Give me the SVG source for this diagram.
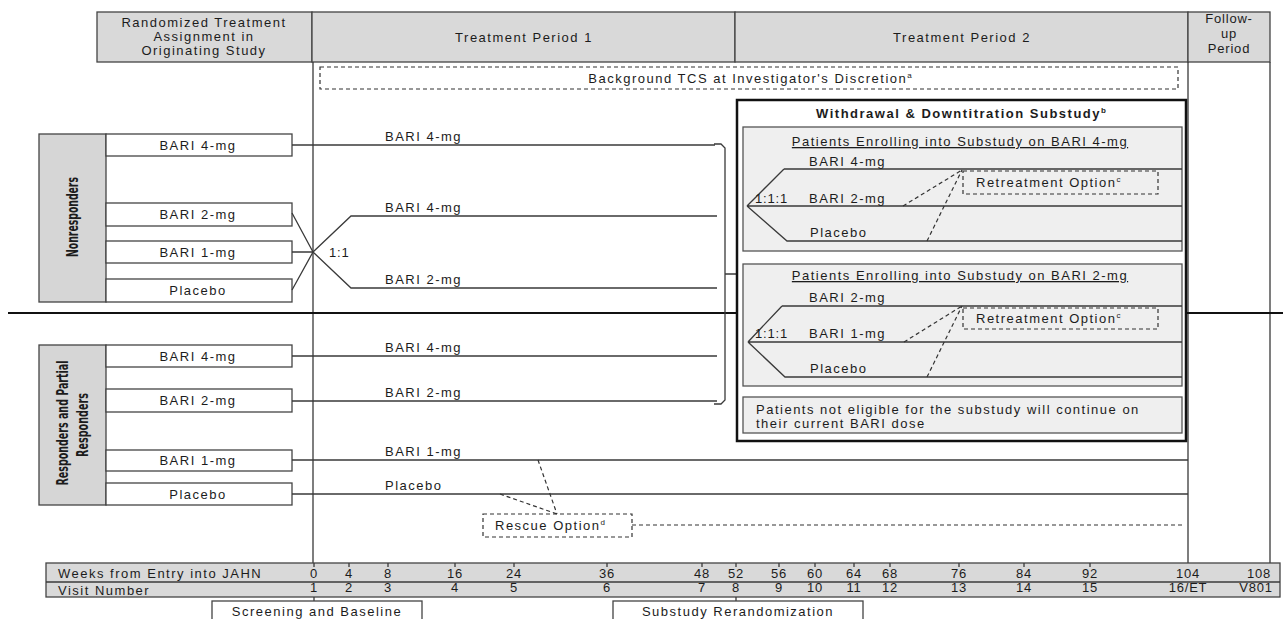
<svg xmlns="http://www.w3.org/2000/svg" width="1283" height="619" viewBox="0 0 1283 619">
<style>
.t{font-family:"Liberation Sans",Arial,sans-serif;font-size:13px;letter-spacing:1.5px;fill:#1c1c1c}
.c{text-anchor:middle}
.b{font-weight:bold}
.u{text-decoration:underline}
.n{letter-spacing:0.8px}
.v{font-family:"Liberation Sans Narrow","DejaVu Sans Condensed","Liberation Sans",sans-serif;font-weight:bold;font-size:16px;letter-spacing:0;fill:#1c1c1c;text-anchor:middle}
.sup{font-size:8px;letter-spacing:0}
.hdr{fill:#d9d9d9;stroke:#444;stroke-width:1.3}
.side{fill:#d6d6d6;stroke:#444;stroke-width:1.3}
.box{fill:#fff;stroke:#444;stroke-width:1.3}
.sub{fill:#efefef;stroke:#555;stroke-width:1.3}
.dbox{fill:none;stroke:#333;stroke-width:1.2;stroke-dasharray:4 3}
.ln{fill:none;stroke:#3a3a3a;stroke-width:1.3}
.dl{fill:none;stroke:#333;stroke-width:1.2;stroke-dasharray:4 3}
</style>
<rect width="1283" height="619" fill="#fff"/>

<g id="header">
  <rect class="hdr" x="97" y="12" width="215" height="50"/>
  <text class="t c" x="204" y="27">Randomized Treatment</text>
  <text class="t c" x="204" y="41">Assignment in</text>
  <text class="t c" x="204" y="55">Originating Study</text>
  <rect class="hdr" x="312" y="12" width="423" height="50"/>
  <text class="t c" x="524" y="42">Treatment Period 1</text>
  <rect class="hdr" x="735" y="12" width="453" height="50"/>
  <text class="t c" x="962" y="42">Treatment Period 2</text>
  <rect class="hdr" x="1188" y="12" width="82" height="50"/>
  <text class="t c n" x="1229" y="23">Follow-</text>
  <text class="t c n" x="1229" y="38">up</text>
  <text class="t c n" x="1229" y="53">Period</text>
</g>

<g id="columns">
  <path class="ln" d="M313,62 V563 M1188,62 V563 M1270,62 V563"/>
</g>

<g id="background-tcs">
  <rect class="dbox" x="320" y="67" width="858" height="22"/>
  <text class="t c" x="750" y="83">Background TCS at Investigator's Discretion<tspan class="sup" dy="-5">a</tspan></text>
</g>

<g id="separator">
  <path d="M8,313 H1283" stroke="#111" stroke-width="2"/>
</g>

<g id="nonresponders">
  <rect class="side" x="39" y="134" width="67" height="168"/>
  <text class="v" transform="translate(78,217) rotate(-90)" textLength="80" lengthAdjust="spacingAndGlyphs">Nonresponders</text>
  <rect class="box" x="106" y="134" width="186" height="22"/>
  <text class="t c" x="198" y="150">BARI 4-mg</text>
  <rect class="box" x="106" y="203" width="186" height="23"/>
  <text class="t c" x="198" y="219">BARI 2-mg</text>
  <rect class="box" x="106" y="241" width="186" height="22"/>
  <text class="t c" x="198" y="257">BARI 1-mg</text>
  <rect class="box" x="106" y="279" width="186" height="23"/>
  <text class="t c" x="198" y="295">Placebo</text>
</g>

<g id="responders">
  <rect class="side" x="39" y="345" width="67" height="160"/>
  <text class="v" transform="translate(68,423) rotate(-90)" textLength="125" lengthAdjust="spacingAndGlyphs">Responders and Partial</text>
  <text class="v" transform="translate(88,425) rotate(-90)" textLength="64" lengthAdjust="spacingAndGlyphs">Responders</text>
  <rect class="box" x="106" y="345" width="186" height="22"/>
  <text class="t c" x="198" y="361">BARI 4-mg</text>
  <rect class="box" x="106" y="389" width="186" height="23"/>
  <text class="t c" x="198" y="405">BARI 2-mg</text>
  <rect class="box" x="106" y="450" width="186" height="21"/>
  <text class="t c" x="198" y="465">BARI 1-mg</text>
  <rect class="box" x="106" y="483" width="186" height="22"/>
  <text class="t c" x="198" y="499">Placebo</text>
</g>

<g id="connectors">
  <path class="ln" d="M292,145 H715"/>
  <path class="ln" d="M292,213 L313,252 M292,252 H313 M292,290 L313,252"/>
  <path class="ln" d="M313,252 L351,216 H717 M313,252 L351,288 H717"/>
  <path class="ln" d="M292,356 H717 M292,401 H717"/>
  <path class="ln" d="M292,460 H1188 M292,494 H1188"/>
  <path class="ln" d="M714,144 H721 L725,148 V400 L721,404 H714 M725,274 H737"/>
  <path class="dl" d="M538,460 L557,514 M500,494 L557,514 M632,525 H1184"/>
  <text class="t" x="385" y="141">BARI 4-mg</text>
  <text class="t" x="385" y="212">BARI 4-mg</text>
  <text class="t n" x="329" y="257">1:1</text>
  <text class="t" x="385" y="284">BARI 2-mg</text>
  <text class="t" x="385" y="352">BARI 4-mg</text>
  <text class="t" x="385" y="397">BARI 2-mg</text>
  <text class="t" x="385" y="456">BARI 1-mg</text>
  <text class="t" x="385" y="490">Placebo</text>
</g>

<g id="rescue">
  <rect class="dbox" x="483" y="514" width="149" height="23"/>
  <text class="t" x="495" y="530">Rescue Option<tspan class="sup" dy="-5">d</tspan></text>
</g>

<g id="substudy">
  <rect x="737" y="100" width="449" height="341" fill="#fff" stroke="#111" stroke-width="2.5"/>
  <text class="t c b" x="961" y="118">Withdrawal &amp; Downtitration Substudy<tspan class="sup" dy="-5">b</tspan></text>

  <g id="substudy-4mg">
    <rect class="sub" x="743" y="127" width="439" height="124"/>
    <text class="t c u" x="960" y="146">Patients Enrolling into Substudy on BARI 4-mg</text>
    <path class="ln" d="M784,169 H1182 M747,206 L784,169 M747,206 H1182 M747,206 L787,241 H1182"/>
    <text class="t" x="809" y="166">BARI 4-mg</text>
    <text class="t n" x="755" y="203">1:1:1</text>
    <text class="t" x="809" y="203">BARI 2-mg</text>
    <text class="t" x="810" y="237">Placebo</text>
    <rect class="dbox" x="963" y="171" width="195" height="23" fill="#efefef"/>
    <text class="t" x="976" y="187">Retreatment Option<tspan class="sup" dy="-5">c</tspan></text>
    <path class="dl" d="M903,206 L962,170 M927,241 L962,170"/>
  </g>

  <g id="substudy-2mg">
    <rect class="sub" x="743" y="264" width="439" height="122"/>
    <text class="t c u" x="960" y="280">Patients Enrolling into Substudy on BARI 2-mg</text>
    <path class="ln" d="M782,306 H1182 M748,342 L782,306 M748,342 H1182 M748,342 L785,377 H1182"/>
    <text class="t" x="809" y="302">BARI 2-mg</text>
    <text class="t n" x="755" y="338">1:1:1</text>
    <text class="t" x="809" y="338">BARI 1-mg</text>
    <text class="t" x="810" y="373">Placebo</text>
    <rect class="dbox" x="963" y="308" width="195" height="21" fill="#efefef"/>
    <text class="t" x="976" y="323">Retreatment Option<tspan class="sup" dy="-5">c</tspan></text>
    <path class="dl" d="M904,342 L962,306 M927,377 L962,306"/>
  </g>

  <g id="not-eligible">
    <rect class="sub" x="743" y="397" width="439" height="36"/>
    <text class="t" x="756" y="414">Patients not eligible for the substudy will continue on</text>
    <text class="t" x="756" y="428">their current BARI dose</text>
  </g>
</g>

<g id="timeline">
  <rect x="46" y="563" width="1234" height="34" fill="#d9d9d9" stroke="#444" stroke-width="1.3"/>
  <path class="ln" d="M46,582 H1280"/>
  <path class="ln" d="M314,563 v4 M349,563 v4 M388,563 v4 M455,563 v4 M514,563 v4 M607,563 v4 M702,563 v4 M736,563 v4 M779,563 v4 M815,563 v4 M854,563 v4 M890,563 v4 M959,563 v4 M1024,563 v4 M1090,563 v4"/>
  <text class="t" x="58" y="578">Weeks from Entry into JAHN</text>
  <text class="t" x="58" y="595">Visit Number</text>
  <g class="t c n">
    <text x="314" y="578">0</text><text x="349" y="578">4</text><text x="388" y="578">8</text><text x="455" y="578">16</text><text x="514" y="578">24</text><text x="607" y="578">36</text><text x="702" y="578">48</text><text x="736" y="578">52</text><text x="779" y="578">56</text><text x="815" y="578">60</text><text x="854" y="578">64</text><text x="890" y="578">68</text><text x="959" y="578">76</text><text x="1024" y="578">84</text><text x="1090" y="578">92</text><text x="1188" y="578">104</text><text x="1259" y="578">108</text>
    <text x="314" y="592">1</text><text x="349" y="592">2</text><text x="388" y="592">3</text><text x="455" y="592">4</text><text x="514" y="592">5</text><text x="607" y="592">6</text><text x="702" y="592">7</text><text x="736" y="592">8</text><text x="779" y="592">9</text><text x="815" y="592">10</text><text x="854" y="592">11</text><text x="890" y="592">12</text><text x="959" y="592">13</text><text x="1024" y="592">14</text><text x="1090" y="592">15</text><text x="1188" y="592">16/ET</text><text x="1256" y="592">V801</text>
  </g>
</g>

<g id="screening">
  <path class="ln" d="M314,597 V601"/>
  <rect class="box" x="212" y="601" width="210" height="24"/>
  <text class="t c" x="317" y="616">Screening and Baseline</text>
</g>

<g id="rerandomization">
  <path class="ln" d="M736,597 V601"/>
  <rect class="box" x="613" y="601" width="250" height="24"/>
  <text class="t c" x="738" y="616">Substudy Rerandomization</text>
</g>
</svg>
